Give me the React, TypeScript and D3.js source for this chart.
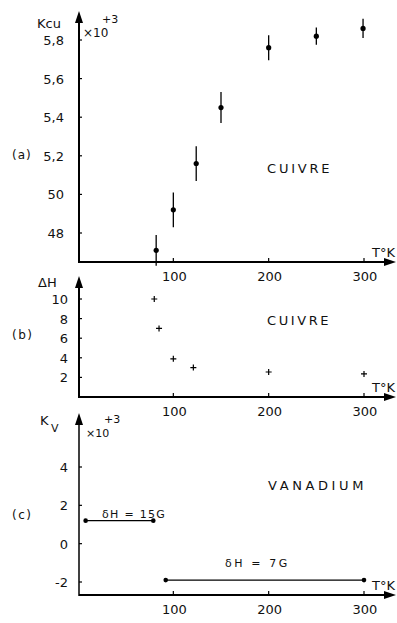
import React, { useRef, useEffect } from "react";
import * as d3 from "d3";

// (a) K Cu vs temperature, with error bars
const tempA = [82, 100, 124, 150, 200, 250, 299];
const kCu = [4.71, 4.92, 5.16, 5.45, 5.76, 5.82, 5.86];
const kCuErr = [0.08, 0.09, 0.09, 0.08, 0.065, 0.045, 0.05];
const tickA = [4.8, 5.0, 5.2, 5.4, 5.6, 5.8];
const tickALabels = ["48", "50", "5,2", "5,4", "5,6", "5,8"];

// (b) line width ΔH
const tempB = [80, 85, 100, 121, 200, 300];
const deltaH = [10, 7, 3.9, 3.0, 2.55, 2.35];
const tickB = [2, 4, 6, 8, 10];

// (c) vanadium, two constant segments
const segStart = [8, 92];
const segEnd = [79, 300];
const kV = [1.2, -1.9];
const segLabels = ["δH = 15G", "δH = 7G"];
const tickC = [-2, 0, 2, 4];
const tickCLabels = ["-2", "0", "2", "4"];

const tempTicks = [100, 200, 300];

const FONT = "'DejaVu Sans', sans-serif";

const Chart = () => {
  const ref = useRef<SVGSVGElement>(null);

  useEffect(() => {
    const svg = d3.select(ref.current);
    svg.selectAll("*").remove();

    const x = d3.scaleLinear().domain([0, 300]).range([78, 364]);
    const axisX = 79;
    const xEnd = 396;

    const arrowUp = (cx, tip) =>
      svg.append("path")
        .attr("d", `M${cx},${tip} L${cx - 4},${tip + 12} L${cx + 4},${tip + 12} Z`)
        .attr("fill", "#000");
    const arrowRight = (tip, cy) =>
      svg.append("path")
        .attr("d", `M${tip},${cy} L${tip - 12},${cy - 4} L${tip - 12},${cy + 4} Z`)
        .attr("fill", "#000");

    const txt = (s, px, py, size = 13, anchor = "start", spacing = 0) =>
      svg.append("text")
        .attr("x", px)
        .attr("y", py)
        .attr("text-anchor", anchor)
        .attr("font-family", FONT)
        .attr("font-size", size)
        .attr("letter-spacing", spacing)
        .attr("fill", "#111")
        .text(s);

    const frame = (baseY, topY, yScale, ticks, labels, labelX, yw = 2) => {
      // y axis
      svg.append("line")
        .attr("x1", axisX).attr("x2", axisX)
        .attr("y1", baseY + 1).attr("y2", topY + 6)
        .attr("stroke", "#000").attr("stroke-width", yw);
      arrowUp(axisX, topY);
      // x axis
      svg.append("line")
        .attr("x1", axisX).attr("x2", xEnd - 6)
        .attr("y1", baseY).attr("y2", baseY)
        .attr("stroke", "#000").attr("stroke-width", 2);
      arrowRight(xEnd, baseY);
      // x ticks
      tempTicks.forEach((t) => {
        svg.append("line")
          .attr("x1", x(t)).attr("x2", x(t))
          .attr("y1", baseY).attr("y2", baseY - 4)
          .attr("stroke", "#000").attr("stroke-width", 1.2);
        txt(String(t), x(t) + 1, baseY + 19, 13, "middle");
      });
      txt("T°K", 395, baseY - 5, 13, "end");
      // y ticks
      ticks.forEach((v, i) => {
        svg.append("line")
          .attr("x1", axisX).attr("x2", axisX + 3)
          .attr("y1", yScale(v)).attr("y2", yScale(v))
          .attr("stroke", "#000").attr("stroke-width", 1.2);
        txt(labels[i], labelX, yScale(v) + 5, 13, "end");
      });
    };

    // ---- panel (a)
    const yA = d3.scaleLinear().domain([4.8, 5.8]).range([233, 40]);
    frame(262, 11, yA, tickA, tickALabels, 64);
    txt("Kcu", 37, 28, 13);
    txt("×10", 83, 37, 12);
    txt("+3", 102, 23, 11);
    txt("(a)", 12, 159, 12, "start", 1);
    txt("CUIVRE", 267, 173, 13, "start", 2.8);
    tempA.forEach((t, i) => {
      svg.append("line")
        .attr("x1", x(t)).attr("x2", x(t))
        .attr("y1", yA(kCu[i] - kCuErr[i])).attr("y2", yA(kCu[i] + kCuErr[i]))
        .attr("stroke", "#000").attr("stroke-width", 1.3);
      svg.append("circle")
        .attr("cx", x(t)).attr("cy", yA(kCu[i]))
        .attr("r", 2.6).attr("fill", "#000");
    });

    // ---- panel (b)
    const yB = d3.scaleLinear().domain([0, 10]).range([397, 299]);
    frame(397, 276, yB, tickB, tickB.map(String), 68);
    txt("ΔH", 38, 287, 13);
    txt("(b)", 12, 339, 12, "start", 1.5);
    txt("CUIVRE", 267, 325, 13, "start", 2.6);
    tempB.forEach((t, i) => {
      const cx = x(t), cy = yB(deltaH[i]);
      svg.append("path")
        .attr("d", `M${cx - 3},${cy} H${cx + 3} M${cx},${cy - 3} V${cy + 3}`)
        .attr("stroke", "#000").attr("stroke-width", 1.2);
    });

    // ---- panel (c)
    const yC = d3.scaleLinear().domain([-2, 4]).range([582, 467]);
    frame(595, 413, yC, tickC, tickCLabels, 68, 1.5);
    txt("K", 40, 425, 13);
    txt("V", 51, 432, 11);
    txt("×10", 86, 437, 11);
    txt("+3", 104, 423, 11);
    txt("(c)", 12, 519, 12, "start", 1.5);
    txt("VANADIUM", 268, 490, 13, "start", 3.6);
    segStart.forEach((s, i) => {
      const yy = yC(kV[i]);
      svg.append("line")
        .attr("x1", x(s)).attr("x2", x(segEnd[i]))
        .attr("y1", yy).attr("y2", yy)
        .attr("stroke", "#000").attr("stroke-width", 1.3);
      [s, segEnd[i]].forEach((t) =>
        svg.append("circle").attr("cx", x(t)).attr("cy", yy).attr("r", 2.3).attr("fill", "#000")
      );
    });
    txt(segLabels[0], 102, 518, 11, "start", 1.3);
    txt(segLabels[1], 225, 567, 11, "start", 2.6);
  }, []);

  return (
    <svg
      ref={ref}
      width={397}
      height={623}
      style={{ position: "absolute", left: 0, top: 0, display: "block", background: "#fff" }}
    />
  );
};

export default function App() {
  return <Chart />;
}
